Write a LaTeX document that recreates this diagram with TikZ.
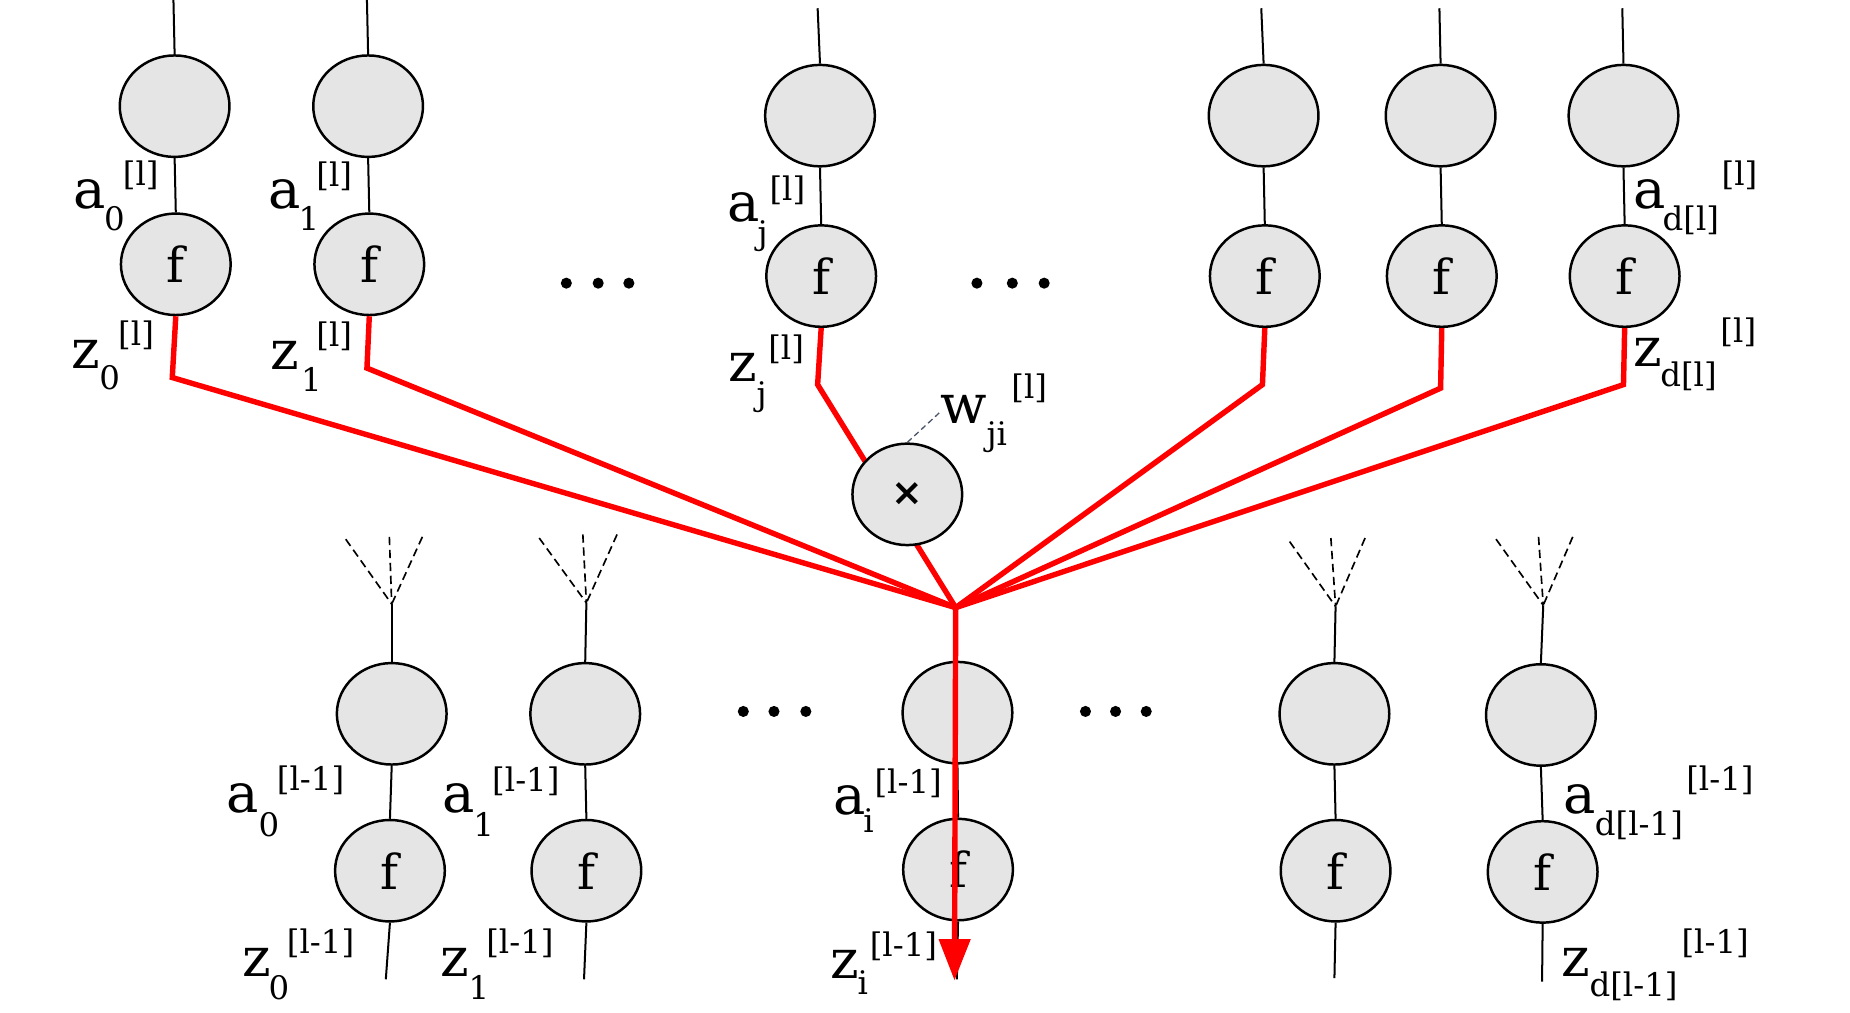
\documentclass[tikz,border=0pt]{standalone}
\usepackage{fontspec}
\setmainfont{DejaVu Serif}
\newfontfamily\symfont{DejaVu Sans}
\usetikzlibrary{shapes.geometric,arrows.meta}
\definecolor{nfill}{HTML}{E5E5E5}
\definecolor{wgray}{HTML}{4A5568}
\tikzset{
 neuron/.style={ellipse, draw=black, line width=2.1pt, fill=nfill, minimum width=93pt, minimum height=86pt, inner sep=0pt, font=\fontsize{41}{41}\selectfont},
 wire/.style={line width=1.7pt},
 redwire/.style={draw=red, line width=4.6pt},
 fanline/.style={line width=1.4pt, dash pattern=on 7pt off 4pt},
 big/.style={anchor=base west, inner sep=0pt, font=\fontsize{46}{46}\selectfont},
 small/.style={anchor=base west, inner sep=0pt, font=\fontsize{27.5}{27.5}\selectfont},
 wdash/.style={draw=wgray, line width=1.1pt, dash pattern=on 5pt off 3pt}
}
\begin{document}
\begin{tikzpicture}[x=1pt,y=-1pt]
\useasboundingbox (0,0) rectangle (1568,858);
\fill[white] (0,0) rectangle (1568,858);

% ---------- top layer ----------
\node[neuron] (A0) at (148,90) {};
\node[neuron] (F0) at (149,224) {f};
\node[neuron] (A1) at (312,90) {};
\node[neuron] (F1) at (313,224) {f};
\node[neuron] (Aj) at (695,98) {};
\node[neuron] (Fj) at (696,234) {f};
\node[neuron] (A4) at (1071,98) {};
\node[neuron] (F4) at (1072,234) {f};
\node[neuron] (A5) at (1221,98) {};
\node[neuron] (F5) at (1222,234) {f};
\node[neuron] (A6) at (1376,98) {};
\node[neuron] (F6) at (1377,234) {f};

\coordinate (T0) at (147,0);
\coordinate (T1) at (311,0);
\coordinate (Tj) at (693,7);
\coordinate (T4) at (1069,7);
\coordinate (T5) at (1220,7);
\coordinate (T6) at (1375,7);

\foreach \c in {0,1,j,4,5,6}{
  \draw[wire] (T\c) -- (A\c.north);
  \draw[wire] (A\c.south) -- (F\c.north);
}

% ---------- bottom layer ----------
\node[neuron] (B0) at (332,605) {};
\node[neuron] (G0) at (330.5,738) {f};
\node[neuron] (B1) at (496,605) {};
\node[neuron] (G1) at (497,738) {f};
\node[neuron] (Bi) at (811.5,604) {};
\node[neuron] (Gi) at (812,737) {f};
\node[neuron] (B3) at (1131,605) {};
\node[neuron] (G3) at (1132,738) {f};
\node[neuron] (B4) at (1306,606) {};
\node[neuron] (G4) at (1307.5,739) {f};

\coordinate (J0) at (332,512);
\coordinate (J1) at (497,511);
\coordinate (J3) at (1132,514);
\coordinate (J4) at (1308,513);

\coordinate (E0) at (327,830);
\coordinate (E1) at (495,830);
\coordinate (Ei) at (811,830);
\coordinate (E3) at (1131,829);
\coordinate (E4) at (1307,832);

\foreach \c in {0,1,3,4}{
  \draw[wire] (J\c) -- (B\c.north);
}
\foreach \c in {0,1,i,3,4}{
  \draw[wire] (B\c.south) -- (G\c.north);
  \draw[wire] (G\c.south) -- (E\c);
}

% dashed fans
\coordinate (L0) at (293,457); \coordinate (M0) at (330,455); \coordinate (R0) at (358,455);
\coordinate (L1) at (457,456); \coordinate (M1) at (494,453); \coordinate (R1) at (523,453);
\coordinate (L3) at (1093,459); \coordinate (M3) at (1128,456); \coordinate (R3) at (1157,456);
\coordinate (L4) at (1268,457); \coordinate (M4) at (1304,455); \coordinate (R4) at (1333,455);
\foreach \c in {0,1,3,4}{
  \draw[fanline] (L\c) -- (J\c);
  \draw[fanline] (M\c) -- (J\c);
  \draw[fanline] (R\c) -- (J\c);
}

% ---------- red connectors ----------
\coordinate (hub) at (810,515);
\coordinate (tip) at (809,831);
\coordinate (C0) at (146,320);
\coordinate (C1) at (311,312);
\coordinate (Cj) at (693,326);
\coordinate (C4) at (1070,326);
\coordinate (C5) at (1221,329);
\coordinate (C6) at (1376,326);
\foreach \c in {0,1,j,4,5,6}{
  \draw[redwire] (F\c.south) -- (C\c) -- (hub);
}
\draw[redwire, -{Triangle[length=35pt,width=26pt]}] (hub) -- (tip);

% multiplication node
\node[neuron, font=\symfont\bfseries\fontsize{32}{32}\selectfont] (mul) at (769,419) {×};
\coordinate (wl) at (796,350);
\draw[wdash] (mul.north) -- (wl);

% ---------- dots ----------
\foreach \x/\y in {480/240,507/240,533/240,828/240,858/240,885/240,630/603,656/603,683/603,920/603,945.5/603,971.5/603}{
  \fill (\x,\y) circle (4.7pt);
}

% ---------- labels, top ----------
\node[big] (la0) at (62,176.6) {a};
\node[small] (la0s) at (88,195) {0};
\node[small] (la0p) at (104,157) {[l]};
\node[big] (lz0) at (60,312) {z};
\node[small] (lz0s) at (84,330) {0};
\node[small] (lz0p) at (100,293) {[l]};

\node[big] (la1) at (227,177) {a};
\node[small] (la1s) at (253,195) {1};
\node[small] (la1p) at (268,158) {[l]};
\node[big] (lz1) at (229,313.6) {z};
\node[small] (lz1s) at (255,332) {1};
\node[small] (lz1p) at (268,294) {[l]};

\node[big] (laj) at (616,188) {a};
\node[small] (lajs) at (642,207.5) {j};
\node[small] (lajp) at (652,170) {[l]};
\node[big] (lzj) at (617,323.5) {z};
\node[small] (lzjs) at (641,344) {j};
\node[small] (lzjp) at (651,305) {[l]};

\node[big] (lad) at (1384,176.6) {a};
\node[small] (lads) at (1409,195.5) {d[l]};
\node[small] (ladp) at (1459,157) {[l]};
\node[big] (lzd) at (1384,310.7) {z};
\node[small] (lzds) at (1407,328) {d[l]};
\node[small] (lzdp) at (1458,290) {[l]};

\node[big] (lw) at (797,358.6) {w};
\node[small] (lws) at (836,377.5) {ji};
\node[small] (lwp) at (857,338) {[l]};

% ---------- labels, bottom ----------
\node[big] (ba0) at (192,689) {a};
\node[small] (ba0s) at (219,709) {0};
\node[small] (ba0p) at (234.5,670) {[l-1]};
\node[big] (bz0) at (205,827.7) {z};
\node[small] (bz0s) at (227.5,847.5) {0};
\node[small] (bz0p) at (243,808) {[l-1]};

\node[big] (ba1) at (375,689) {a};
\node[small] (ba1s) at (401,709) {1};
\node[small] (ba1p) at (417,671) {[l-1]};
\node[big] (bz1) at (373,827.7) {z};
\node[small] (bz1s) at (397,847) {1};
\node[small] (bz1p) at (412,808) {[l-1]};

\node[big] (bai) at (706.5,690.7) {a};
\node[small] (bais) at (731.5,706) {i};
\node[small] (baip) at (741,672.5) {[l-1]};
\node[big] (bzi) at (704,829) {z};
\node[small] (bzis) at (726.6,843) {i};
\node[small] (bzip) at (737,811) {[l-1]};

\node[big] (bad) at (1325,689.3) {a};
\node[small] (bads) at (1351.6,708) {d[l-1]};
\node[small] (badp) at (1429,670) {[l-1]};
\node[big] (bzd) at (1323,827.7) {z};
\node[small] (bzds) at (1347,845) {d[l-1]};
\node[small] (bzdp) at (1425,808) {[l-1]};
\end{tikzpicture}
\end{document}
